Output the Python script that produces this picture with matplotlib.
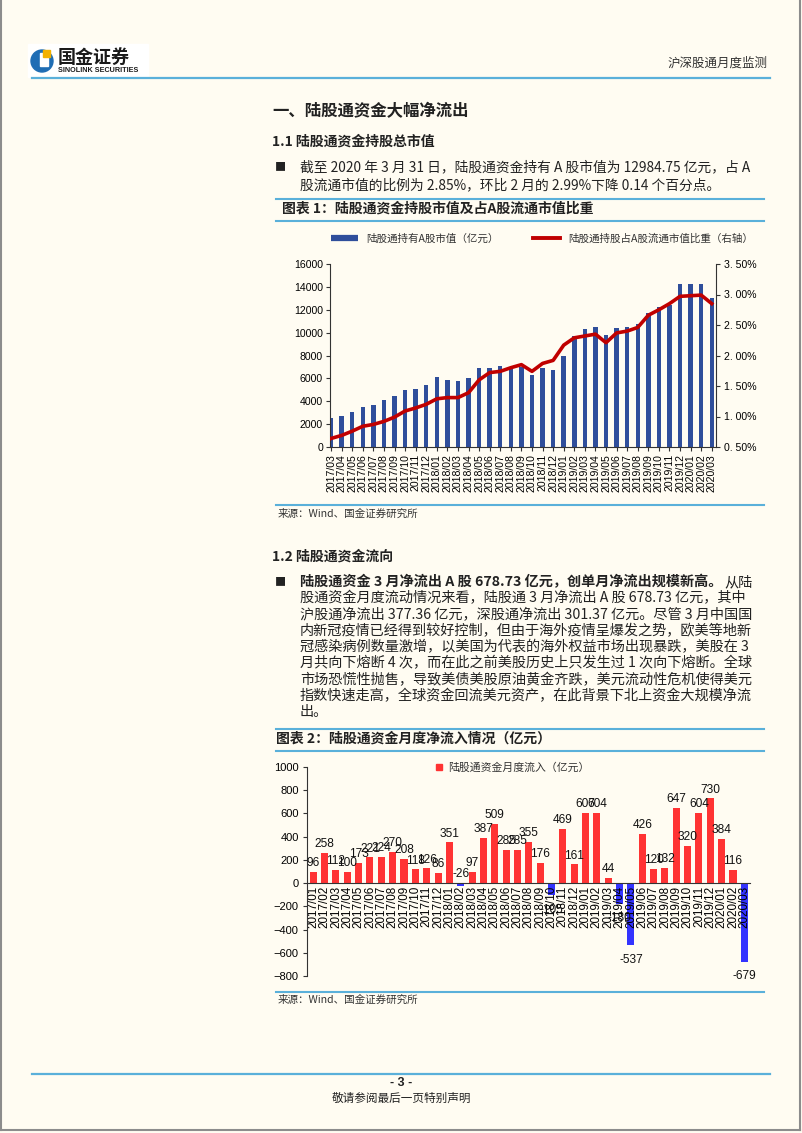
import matplotlib
matplotlib.use("Agg")
import matplotlib.pyplot as plt
import pandas as pd
from matplotlib.patches import Rectangle, Circle
from matplotlib.lines import Line2D

W, H = 802, 1133
BG = "#FFFCF2"
TXT = "#222222"
BLUE_LINE = "#5AB0DA"
CJK = ["Noto Sans CJK SC", "DejaVu Sans"]
NUM = ["Liberation Sans", "Noto Sans CJK SC", "DejaVu Sans"]
plt.rcParams["font.family"] = CJK

# chart 1: holdings of northbound funds
months1 = pd.date_range("2017-03", periods=37, freq="MS").strftime("%Y/%m").tolist()
holdings = [2530, 2740, 3030, 3530, 3710, 4120, 4440, 4970, 5060, 5440,
            6120, 5850, 5760, 6030, 6910, 6910, 7090, 6990, 7000, 6320, 6910, 6760,
            8000, 9680, 10310, 10510, 9800, 10430, 10510, 10740, 11710, 12230, 12420, 14230,
            14290, 14290, 12985]
ratio = [0.64, 0.69, 0.76, 0.84, 0.87, 0.92, 0.99, 1.09, 1.14, 1.20,
         1.29, 1.31, 1.31, 1.39, 1.60, 1.72, 1.74, 1.80, 1.85, 1.74, 1.87, 1.92,
         2.17, 2.29, 2.32, 2.35, 2.21, 2.37, 2.40, 2.46, 2.66, 2.75, 2.85, 2.97,
         2.98, 2.99, 2.85]

# chart 2: monthly net inflow
months2 = pd.date_range("2017-01", periods=39, freq="MS").strftime("%Y/%m").tolist()
inflow = [96, 258, 112, 100, 173, 221, 224, 270, 208, 118, 126, 86,
          351, -26, 97, 387, 509, 285, 285, 355, 176, -105, 469, 161,
          607, 604, 44, -180, -537, 426, 120, 132, 647, 320, 604, 730,
          384, 116, -679]

para1 = ["截至 2020 年 3 月 31 日，陆股通资金持有 A 股市值为 12984.75 亿元，占 A",
         "股流通市值的比例为 2.85%，环比 2 月的 2.99%下降 0.14 个百分点。"]
para2_bold = "陆股通资金 3 月净流出 A 股 678.73 亿元，创单月净流出规模新高。"
para2 = ["从陆",
         "股通资金月度流动情况来看，陆股通 3 月净流出 A 股 678.73 亿元，其中",
         "沪股通净流出 377.36 亿元，深股通净流出 301.37 亿元。尽管 3 月中国国",
         "内新冠疫情已经得到较好控制，但由于海外疫情呈爆发之势，欧美等地新",
         "冠感染病例数量激增，以美国为代表的海外权益市场出现暴跌，美股在 3",
         "月共向下熔断 4 次，而在此之前美股历史上只发生过 1 次向下熔断。全球",
         "市场恐慌性抛售，导致美债美股原油黄金齐跌，美元流动性危机使得美元",
         "指数快速走高，全球资金回流美元资产，在此背景下北上资金大规模净流",
         "出。"]

fig = plt.figure(figsize=(W / 100, H / 100), dpi=100, facecolor=BG)
bg = fig.add_axes([0, 0, 1, 1])
bg.set_xlim(0, W)
bg.set_ylim(H, 0)
bg.axis("off")


def rect(l, t, r, b):
    return [l / W, 1 - b / H, (r - l) / W, (b - t) / H]


# page frame
bg.plot([1, 1], [0, 1130], color="#8c8c8c", lw=1.5)
bg.plot([800, 800], [0, 1130], color="#8c8c8c", lw=1.5)
bg.plot([1, 800], [1130, 1130], color="#8c8c8c", lw=1.5)

# logo
bg.add_patch(Rectangle((28, 44), 120, 33, color="white", zorder=1))
bg.add_patch(Circle((42, 61), 11, color="#1F6DB4", zorder=2))
bg.add_patch(Rectangle((40, 53), 8, 13, color="white", zorder=3))
bg.add_patch(Rectangle((43, 50), 7, 7, color="#F2B100", zorder=4))
bg.text(58, 57, "国金证券", fontsize=13, fontweight="heavy", color="#1a1a1a", va="center", zorder=5)
bg.text(58, 70.5, "SINOLINK SECURITIES", fontsize=5.2, fontweight="bold", family=NUM,
        color="#1a1a1a", va="center", zorder=5)
bg.text(768, 63, "沪深股通月度监测", fontsize=9, color="#333333", ha="right", va="center")
bg.plot([32, 770], [78, 78], color=BLUE_LINE, lw=1.6)

# section 1
bg.text(272, 111, "一、陆股通资金大幅净流出", fontsize=11.8, fontweight="bold", color=TXT, va="center")
bg.text(272, 142, "1.1 陆股通资金持股总市值", fontsize=10, fontweight="bold", color=TXT, va="center")
bg.text(280, 167, "■", fontsize=8, color=TXT, va="center", ha="center")
for i, line in enumerate(para1):
    bg.text(300, 167 + i * 18, line, fontsize=9.9, color=TXT, va="center")
bg.plot([276, 764], [199, 199], color=BLUE_LINE, lw=1.5)
bg.text(282, 209, "图表 1：陆股通资金持股市值及占A股流通市值比重", fontsize=10, fontweight="bold",
        style="italic", color=TXT, va="center")
bg.plot([276, 764], [221, 221], color=BLUE_LINE, lw=1.5)

ax1 = fig.add_axes(rect(330, 264, 716, 447))
ax1.set_facecolor("none")
x1 = range(len(months1))
ax1.bar(x1, holdings, width=0.42, color="#2F4E9B", zorder=2)
ax1.set_xlim(-0.1, len(months1) - 0.6)
ax1.set_ylim(0, 16000)
ax1.set_yticks(range(0, 16001, 2000))
ax1.set_xticks(list(x1))
ax1.set_xticklabels(months1, rotation=90, fontsize=7.6, family=NUM)
ax1.tick_params(axis="both", length=3, color="#333333", pad=2)
for lab in ax1.get_yticklabels():
    lab.set_family(NUM)
    lab.set_fontsize(7.6)
for s in ["top", "right"]:
    ax1.spines[s].set_visible(False)
for s in ["left", "bottom"]:
    ax1.spines[s].set_color("#333333")

ax2 = ax1.twinx()
ax2.plot(list(x1), ratio, color="#C00000", lw=2.6, solid_joinstyle="round", zorder=3)
ax2.set_ylim(0.5, 3.5)
rt = [0.5, 1.0, 1.5, 2.0, 2.5, 3.0, 3.5]
ax2.set_yticks(rt)
ax2.set_yticklabels([f"{v:.2f}%".replace(".", ". ") for v in rt], fontsize=7.6, family=NUM)
ax2.tick_params(axis="y", length=3, color="#333333", pad=3)
ax2.spines["top"].set_visible(False)
ax2.spines["left"].set_visible(False)
ax2.spines["bottom"].set_visible(False)
ax2.spines["right"].set_color("#333333")

h1 = [Line2D([], [], color="#2F4E9B", lw=4.5, solid_capstyle="butt"),
      Line2D([], [], color="#C00000", lw=2.8)]
fig.legend(h1, ["陆股通持有A股市值（亿元）", "陆股通持股占A股流通市值比重（右轴）"],
           loc="center", bbox_to_anchor=(542 / W, 1 - 239 / H), ncol=2, frameon=False,
           fontsize=7.6, handlelength=2.6, columnspacing=3.2, labelcolor="#333333")

bg.plot([276, 764], [505, 505], color=BLUE_LINE, lw=1.5)
bg.text(278, 514, "来源：Wind、国金证券研究所", fontsize=7.6, color="#333333", va="center")

# section 2
bg.text(272, 557, "1.2 陆股通资金流向", fontsize=10, fontweight="bold", color=TXT, va="center")
bg.text(280, 582, "■", fontsize=8, color=TXT, va="center", ha="center")
tb = bg.text(300, 582, para2_bold, fontsize=10.2, fontweight="bold", color=TXT, va="center")
rend = fig.canvas.get_renderer()
bw = tb.get_window_extent(rend).width
for i, line in enumerate(para2):
    xs = 300 + bw + 2 if i == 0 else 300
    bg.text(xs, 582 + i * 16.3, line, fontsize=10.2, color=TXT, va="center")
bg.plot([276, 764], [729, 729], color=BLUE_LINE, lw=1.5)
bg.text(276, 739, "图表 2：陆股通资金月度净流入情况（亿元）", fontsize=10, fontweight="bold",
        style="italic", color=TXT, va="center")
bg.plot([276, 764], [751, 751], color=BLUE_LINE, lw=1.5)

ax3 = fig.add_axes(rect(307, 767, 750, 976))
ax3.set_facecolor("none")
ax3.spines["top"].set_visible(False)
ax3.spines["right"].set_visible(False)
ax3.spines["bottom"].set_position(("data", 0))
ax3.spines["bottom"].set_color("#333333")
ax3.spines["left"].set_color("#333333")
x2 = list(range(len(months2)))
cols = ["#FF3333" if v >= 0 else "#3333FF" for v in inflow]
ax3.bar(x2, inflow, width=0.62, color=cols, zorder=1)
ax3.set_xlim(-0.55, len(months2) - 0.5)
ax3.set_ylim(-800, 1000)
ax3.set_yticks(range(-800, 1001, 200))
ax3.set_xticks(x2)
ax3.set_xticklabels(months2, rotation=90, fontsize=8.4, family=NUM, va="top")
ax3.tick_params(axis="x", length=0, pad=2)
ax3.tick_params(axis="y", length=3, color="#333333", pad=3)
for lab in ax3.get_yticklabels():
    lab.set_family(NUM)
    lab.set_fontsize(8)
for xi, v in zip(x2, inflow):
    if v >= 0 or abs(v) < 50:
        ax3.annotate(f"{v}", (xi, max(v, 0)), xytext=(0, 2), textcoords="offset points",
                     ha="center", va="bottom", fontsize=8.6, family=NUM, color="#111111")
    else:
        ax3.annotate(f"{v}", (xi, v), xytext=(0, -6), textcoords="offset points",
                     ha="center", va="top", fontsize=8.6, family=NUM, color="#111111")

h2 = [Line2D([], [], color="#FF3333", marker="s", markersize=4.5, linestyle="none")]
fig.legend(h2, ["陆股通资金月度流入（亿元）"], loc="center", bbox_to_anchor=(512 / W, 1 - 768 / H),
           frameon=False, fontsize=7.8, handlelength=0.8, handletextpad=0.4, labelcolor="#333333")

bg.plot([276, 764], [992, 992], color=BLUE_LINE, lw=1.5)
bg.text(278, 1000, "来源：Wind、国金证券研究所", fontsize=7.6, color="#333333", va="center")

# footer
bg.plot([32, 770], [1074, 1074], color=BLUE_LINE, lw=1.6)
bg.text(401, 1083, "- 3 -", fontsize=9, fontweight="bold", color=TXT, ha="center", va="center", family=NUM)
bg.text(401, 1098, "敬请参阅最后一页特别声明", fontsize=8.4, color=TXT, ha="center", va="center")

fig.savefig("out.png", dpi=100, facecolor=BG)
